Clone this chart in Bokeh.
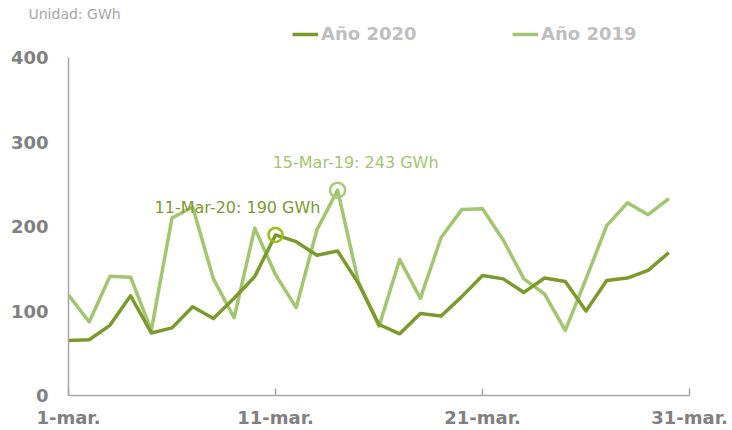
from bokeh.plotting import figure
from bokeh.models import FixedTicker, Legend, LegendItem
from bokeh.core.properties import value
from bokeh.embed import file_html
from bokeh.resources import INLINE
import numpy as np

# ---- data ----
days = list(range(1, 31))
gwh_2020 = [65, 66, 83, 118, 74, 80, 105, 91, 115, 141, 190, 182, 166, 171, 133,
            84, 73, 97, 94, 117, 142, 138, 122, 139, 135, 100, 136, 139, 148, 169]
gwh_2019 = [119, 87, 141, 140, 77, 210, 223, 138, 92, 198, 143, 104, 196, 243, 135,
            82, 161, 115, 187, 220, 221, 184, 138, 120, 77, 138, 201, 228, 214, 233]
series_names = ["Año 2020", "Año 2019"]
x_ticks = [1, 11, 21, 31]
x_tick_labels = ["1-mar.", "11-mar.", "21-mar.", "31-mar."]
y_ticks = [0, 100, 200, 300, 400]
y_max = 400
peak_labels = ["11-Mar-20: 190 GWh", "15-Mar-19: 243 GWh"]
unit_text = "Unidad: GWh"

FONT = "DejaVu Sans"
C2020 = "#7b9a2c"
C2019 = "#a1c66e"
C2020_RING = "#9cbc1c"
C2019_RING = "#a6ca76"
AXIS_C = "#a6a6a6"
TICK_LABEL_C = "#808080"
LEGEND_C = "#bfbfbf"

W, H = 730, 430
TOP = 22          # frame top (px)
BOTTOM_BORDER = 35
FRAME_BOTTOM = H - BOTTOM_BORDER
Y400_PX = 57      # where the 400 line should sit
y_end = y_max * (FRAME_BOTTOM - TOP) / (FRAME_BOTTOM - Y400_PX)

p = figure(width=W, height=H, x_range=(1, 31), y_range=(0, y_end),
           output_backend="svg", toolbar_location=None,
           min_border_left=68, min_border_right=41, min_border_top=TOP,
           min_border_bottom=BOTTOM_BORDER)
p.outline_line_color = None
p.xgrid.visible = False
p.ygrid.visible = False

p.title.text = unit_text
p.title.align = "left"
p.title.offset = -40
p.title.text_font = FONT
p.title.text_font_size = "14px"
p.title.text_font_style = "normal"
p.title.text_color = "#a6a6a6"
p.title.standoff = 2

r19 = p.line(days, gwh_2019, line_color=C2019, line_width=3.5, line_join="round")
r20 = p.line(days, gwh_2020, line_color=C2020, line_width=3.5, line_join="round")

i20 = int(np.argmax(gwh_2020))
i19 = int(np.argmax(gwh_2019))
p.scatter([days[i20]], [gwh_2020[i20]], marker="circle", size=14, fill_alpha=0,
          line_color=C2020_RING, line_width=2.5)
p.scatter([days[i19]], [gwh_2019[i19]], marker="circle", size=15, fill_alpha=0,
          line_color=C2019_RING, line_width=2.5)
p.text([days[i20]], [gwh_2020[i20]], text=[peak_labels[0]], x_offset=-38, y_offset=-27,
       text_font=value(FONT), text_font_size="16px", text_color=C2020,
       text_align="center", text_baseline="middle")
p.text([days[i19]], [gwh_2019[i19]], text=[peak_labels[1]], x_offset=18, y_offset=-28,
       text_font=value(FONT), text_font_size="16px", text_color=C2019,
       text_align="center", text_baseline="middle")

for ax in (p.xaxis[0], p.yaxis[0]):
    ax.axis_line_color = AXIS_C
    ax.axis_line_width = 1.5
    ax.major_tick_line_color = AXIS_C
    ax.major_tick_line_width = 1.5
    ax.minor_tick_line_color = None
    ax.major_label_text_font = FONT
    ax.major_label_text_font_size = "18px"
    ax.major_label_text_font_style = "bold"
    ax.major_label_text_color = TICK_LABEL_C

p.xaxis.ticker = FixedTicker(ticks=x_ticks)
p.xaxis.major_label_overrides = {t: l for t, l in zip(x_ticks, x_tick_labels)}
p.xaxis.major_tick_in = 7
p.xaxis.major_tick_out = 0
p.xaxis.major_label_standoff = 11

p.yaxis.ticker = FixedTicker(ticks=y_ticks)
p.yaxis.bounds = (0, y_max)
p.yaxis.major_tick_in = 0
p.yaxis.major_tick_out = 0
p.yaxis.major_label_standoff = 20

# legend inside the (extended) frame, above the 400 line
legend = Legend(items=[LegendItem(label=series_names[0], renderers=[r20]),
                       LegendItem(label=series_names[1], renderers=[r19])],
                orientation="horizontal",
                location=(224, FRAME_BOTTOM - 23 - 21),
                glyph_width=26, glyph_height=20, label_standoff=3,
                label_width=191, spacing=0, padding=0, margin=0,
                label_text_font=FONT, label_text_font_size="18px",
                label_text_font_style="bold", label_text_color=LEGEND_C,
                border_line_alpha=0, background_fill_alpha=0)
p.add_layout(legend)

open("out.html", "w").write(file_html(p, INLINE))
